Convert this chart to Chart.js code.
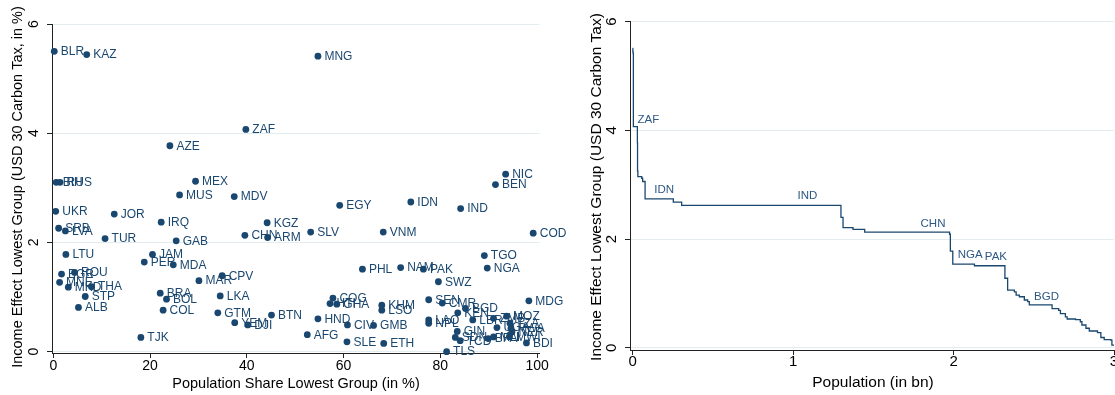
<!DOCTYPE html>
<html>
<head>
<meta charset="utf-8">
<script src="https://cdn.jsdelivr.net/npm/chart.js@4.4.0/dist/chart.umd.min.js"></script>
<style>
body{margin:0;background:#fff;}
#wrap{position:relative;width:1115px;height:395px;overflow:hidden;}
#left{position:absolute;left:0;top:0;}
#right{position:absolute;left:557px;top:0;}
</style>
</head>
<body>
<div id="wrap">
<canvas id="left" width="600" height="395"></canvas>
<canvas id="right" width="558" height="395"></canvas>
</div>
<script>
// left panel: country, share of population in lowest group (%), income effect (%)
const countries = ['BLR','KAZ','MNG','ZAF','AZE','BIH','RUS','MEX','NIC','BEN','MUS','MDV','IDN','EGY','IND',
  'UKR','JOR','IRQ','KGZ','SRB','LVA','SLV','VNM','COD','CHN','ARM','TUR','GAB','LTU','JAM','TGO','PER','MDA',
  'PHL','NAM','PAK','NGA','ROU','BGR','CPV','MAR','SWZ','MNE','MKD','THA','STP','ALB','BRA','BOL','LKA','COL',
  'GTM','BTN','YEM','DJI','TJK','COG','HTI','GHA','KHM','LSO','HND','CIV','GMB','AFG','SLE','ETH','TLS','SEN',
  'CMR','BGD','KEN','LAO','NPL','LBR','ZMB','MOZ','TZA','UGA','RWA','NER','MWI','MLI','BFA','GIN','SDN','TCD',
  'MDG','BDI'];
const popShare = [0.2,6.9,54.7,39.8,24.1,0.6,1.4,29.4,93.5,91.4,26.1,37.4,73.9,59.2,84.2,
  0.5,12.6,22.3,44.2,1.1,2.5,53.2,68.2,99.2,39.6,44.3,10.7,25.4,2.6,20.5,89.1,18.8,24.8,
  63.9,71.8,76.5,89.7,4.4,1.7,34.9,30.1,79.6,1.3,3.1,7.9,6.6,5.2,22.1,23.4,34.5,22.7,
  34.0,45.1,37.5,40.2,18.1,57.8,57.2,58.6,67.9,67.9,54.7,60.8,66.2,52.5,60.7,68.3,81.3,77.6,
  80.4,85.2,83.6,77.6,77.6,86.7,91.0,93.7,94.4,91.7,94.6,94.8,94.3,91.0,89.9,83.5,83.1,84.1,
  98.3,97.8];
const incomeEffect = [5.50,5.44,5.41,4.07,3.77,3.10,3.10,3.12,3.25,3.06,2.87,2.84,2.74,2.68,2.62,
  2.57,2.52,2.37,2.36,2.26,2.21,2.19,2.19,2.17,2.13,2.09,2.07,2.03,1.78,1.78,1.76,1.64,1.59,
  1.51,1.54,1.51,1.53,1.45,1.42,1.39,1.30,1.28,1.27,1.18,1.19,1.01,0.81,1.07,0.96,1.02,0.76,
  0.71,0.67,0.53,0.49,0.26,0.98,0.88,0.87,0.85,0.76,0.60,0.49,0.48,0.31,0.18,0.15,0.00,0.95,
  0.89,0.79,0.71,0.58,0.52,0.58,0.61,0.65,0.52,0.44,0.43,0.36,0.27,0.27,0.24,0.37,0.26,0.20,
  0.93,0.16];

// right panel: cumulative population of lowest group (bn) where the income effect drops to the next level
const cumPop = [0,0.001,0.003,0.004,0.029,0.030,0.032,0.056,0.062,0.077,0.253,0.305,
  1.298,1.311,1.373,1.446,1.975,1.980,1.995,2.130,2.320,2.337,2.379,2.390,2.410,2.441,2.462,2.472,
  2.614,2.655,2.666,2.697,2.708,2.760,2.790,2.800,2.825,2.846,2.897,2.918,2.939,2.980,2.987,3.0];
const stepEffect = [5.51,5.44,5.41,4.07,3.77,3.25,3.15,3.12,3.06,2.74,2.68,2.62,
  2.40,2.21,2.18,2.13,2.09,1.78,1.54,1.51,1.28,1.06,1.03,0.97,0.94,0.88,0.85,0.79,
  0.72,0.69,0.63,0.57,0.53,0.52,0.48,0.42,0.36,0.31,0.28,0.19,0.15,0.14,0.05,0.05];
const stepNames = ['ZAF','IDN','IND','CHN','NGA','PAK','BGD'];
const stepNameX = [0.03,0.134,1.027,1.794,2.026,2.195,2.502];
const stepNameY = [4.19,2.90,2.79,2.28,1.71,1.67,0.94];

const shareTicks = [0,20,40,60,80,100];
const effectTicks = [0,2,4,6];
const popTicks = [0,1,2,3];

const navy = '#1a476f';
const font = '"Liberation Sans", Arial, sans-serif';

function textPlugin(o){
  return {
    id:'texts',
    afterDatasetsDraw(chart){
      const ctx = chart.ctx, xs = chart.scales.x, ys = chart.scales.y;
      ctx.save();
      ctx.fillStyle = '#000';
      ctx.font = o.tickSize + 'px ' + font;
      ctx.textAlign = 'center';
      ctx.textBaseline = 'middle';
      o.xTicks.forEach(v => ctx.fillText(String(v), xs.getPixelForValue(v), o.xTickY));
      o.yTicks.forEach(v => {
        ctx.save();
        ctx.translate(o.yTickX, ys.getPixelForValue(v));
        ctx.rotate(-Math.PI/2);
        ctx.fillText(String(v), 0, 0);
        ctx.restore();
      });
      ctx.font = o.titleSize + 'px ' + font;
      ctx.fillText(o.xTitle, o.xTitleX, o.xTitleY);
      ctx.save();
      ctx.translate(o.yTitleX, o.yTitleY);
      ctx.rotate(-Math.PI/2);
      ctx.fillText(o.yTitle, 0, 0);
      ctx.restore();
      ctx.restore();
      if (o.labels) o.labels(chart, ctx);
    }
  };
}

function axes(xmin, xmax, ymin, ymax, xt, yt, yw, xh){
  return {
    x:{type:'linear', min:xmin, max:xmax,
      afterBuildTicks:s=>{s.ticks = xt.map(v=>({value:v}));},
      afterFit:s=>{s.height = xh;},
      ticks:{display:false},
      grid:{drawOnChartArea:false, drawTicks:true, tickLength:5, tickColor:'#222'},
      border:{display:true, color:'#222', width:1}},
    y:{type:'linear', min:ymin, max:ymax,
      afterBuildTicks:s=>{s.ticks = yt.map(v=>({value:v}));},
      afterFit:s=>{s.width = yw;},
      ticks:{display:false},
      grid:{color:'#e3ecef', lineWidth:1, drawTicks:true, tickLength:5, tickColor:'#222'},
      border:{display:true, color:'#222', width:1}}
  };
}

new Chart(document.getElementById('left'), {
  type:'scatter',
  data:{datasets:[{
    data: popShare.map((x,i)=>({x:x, y:incomeEffect[i]})),
    pointRadius:3.4, pointHoverRadius:3.4, backgroundColor:navy, borderWidth:0, clip:false
  }]},
  options:{
    responsive:false, animation:false, events:[],
    layout:{autoPadding:false, padding:{left:0, top:24, right:60.5, bottom:0}},
    plugins:{legend:{display:false}, tooltip:{enabled:false}},
    scales: axes(-0.27, 100.5, -0.025, 6, shareTicks, effectTicks, 52, 42)
  },
  plugins:[textPlugin({
    tickSize:14, titleSize:14.5,
    xTicks:shareTicks, yTicks:effectTicks, xTickY:366, yTickX:34,
    xTitle:'Population Share Lowest Group (in %)', xTitleX:296, xTitleY:384,
    yTitle:'Income Effect Lowest Group (USD 30 Carbon Tax, in %)', yTitleX:18, yTitleY:187,
    labels:(chart, ctx)=>{
      const meta = chart.getDatasetMeta(0);
      ctx.save();
      ctx.fillStyle = navy;
      ctx.font = '12px ' + font;
      ctx.textAlign = 'left';
      ctx.textBaseline = 'middle';
      meta.data.forEach((pt,i)=>ctx.fillText(countries[i], pt.x + 6.5, pt.y + 0.5));
      ctx.restore();
    }
  })]
});

new Chart(document.getElementById('right'), {
  type:'line',
  data:{datasets:[{
    data: cumPop.map((x,i)=>({x:x, y:stepEffect[i]})),
    stepped:'before', pointRadius:0, borderColor:navy, borderWidth:1.3, fill:false
  }]},
  options:{
    responsive:false, animation:false, events:[],
    layout:{autoPadding:false, padding:{left:0, top:21.7, right:1, bottom:0}},
    plugins:{legend:{display:false}, tooltip:{enabled:false}},
    scales: axes(-0.017, 3.0, -0.04, 6, popTicks, effectTicks, 73, 45)
  },
  plugins:[textPlugin({
    tickSize:15, titleSize:15.5,
    xTicks:popTicks, yTicks:effectTicks, xTickY:362, yTickX:55,
    xTitle:'Population (in bn)', xTitleX:316, xTitleY:383,
    yTitle:'Income Effect Lowest Group (USD 30 Carbon Tax)', yTitleX:40, yTitleY:187,
    labels:(chart, ctx)=>{
      const xs = chart.scales.x, ys = chart.scales.y;
      ctx.save();
      ctx.fillStyle = '#2d5884';
      ctx.font = '11.5px ' + font;
      ctx.textAlign = 'left';
      ctx.textBaseline = 'middle';
      stepNames.forEach((n,i)=>ctx.fillText(n, xs.getPixelForValue(stepNameX[i]), ys.getPixelForValue(stepNameY[i])));
      ctx.restore();
    }
  })]
});
</script>
</body>
</html>
